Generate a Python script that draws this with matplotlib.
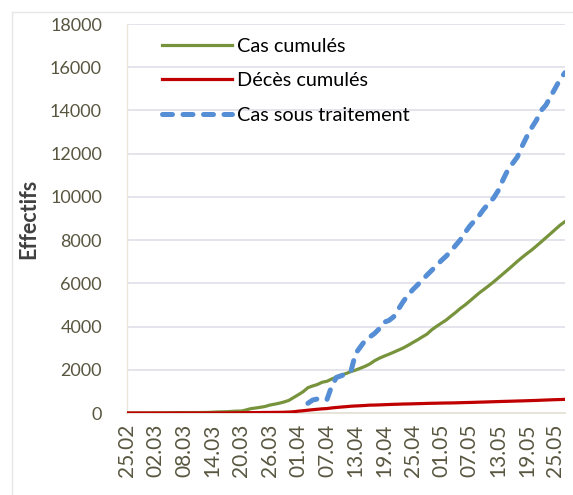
import matplotlib
matplotlib.use("Agg")
import matplotlib.pyplot as plt
import numpy as np
import datetime as dt

start = dt.date(2020, 2, 25)
n_days = 93
dates = [start + dt.timedelta(days=i) for i in range(n_days)]

cas_cumules = [1, 1, 1, 1, 1, 1, 3, 3, 5, 12, 17, 17, 19, 20, 20, 20, 24, 26, 37, 48,
               54, 60, 74, 87, 90, 139, 201, 230, 264, 302, 367, 409, 454, 511, 584, 716,
               847, 986, 1171, 1251, 1320, 1423, 1468, 1572, 1666, 1761, 1825, 1914, 1983,
               2070, 2160, 2268, 2418, 2534, 2629, 2718, 2811, 2910, 3007, 3127, 3256, 3382,
               3517, 3649, 3848, 4006, 4154, 4295, 4474, 4648, 4838, 4997, 5182, 5369, 5558,
               5723, 5891, 6067, 6253, 6442, 6629, 6821, 7019, 7201, 7377, 7542, 7728, 7918,
               8113, 8306, 8503, 8697, 8857]

deces_cumules = [0, 0, 0, 0, 0, 0, 0, 0, 0, 0, 0, 0, 0, 0, 0, 0, 1, 1, 2, 3,
                 4, 4, 6, 8, 11, 15, 17, 19, 21, 25, 26, 29, 31, 35, 44,
                 58, 86, 105, 130, 152, 173, 193, 205, 235, 256, 275, 293, 313, 326,
                 336, 348, 364, 367, 375, 384, 392, 402, 407, 415, 419, 425, 432,
                 437, 444, 450, 453, 459, 463, 465, 470, 476, 483, 488, 494, 502,
                 507, 515, 522, 529, 536, 542, 548, 555, 561, 568, 575, 582, 592,
                 600, 609, 617, 623, 630]
deces_cumules = deces_cumules[:n_days]

cas_traitement_start = 38
cas_traitement = [450, 600, 650, 620, 620, 1250, 1650, 1720, 1820, 1900, 2750, 3050,
                  3350, 3520, 3680, 3900, 4200, 4280, 4450, 4800, 5150, 5450, 5700, 5920,
                  6150, 6380, 6600, 6820, 7050, 7250, 7480, 7750, 8010, 8350, 8650, 8900,
                  9150, 9450, 9700, 9950, 10300, 10800, 11250, 11550, 11850, 12350, 12800,
                  13200, 13550, 14000, 14250, 14650, 15050, 15450, 15750]

labels = ["Cas cumulés", "Décès cumulés", "Cas sous traitement"]
y_ticks = list(range(0, 18001, 2000))

x = np.arange(n_days)
blue = np.full(n_days, np.nan)
blue[cas_traitement_start:cas_traitement_start + len(cas_traitement)] = cas_traitement

plt.rcParams['font.family'] = ['Lato', 'DejaVu Sans']

fig = plt.figure(figsize=(5.73, 4.95), dpi=100)
ax = fig.add_axes([127/573, (495-413)/495, (565-127)/573, (413-24)/495])

green_c = '#77933C'
red_c = '#C00000'
blue_c = '#558ED5'

ax.plot(x, cas_cumules[:n_days], color=green_c, lw=2.3, label=labels[0], zorder=3)
ax.plot(x, deces_cumules, color=red_c, lw=2.3, label=labels[1], zorder=4)
ax.plot(x, blue, color=blue_c, lw=3.6, label=labels[2], dashes=[2.0, 2.1],
        dash_capstyle='round', solid_capstyle='round', zorder=3)

ax.set_xlim(0, n_days - 1)
ax.set_ylim(0, 18000)
ax.set_yticks(y_ticks)
ax.set_yticklabels([str(v) for v in y_ticks])
xt = list(range(0, n_days, 6))
ax.set_xticks(xt)
ax.set_xticklabels([dates[i].strftime('%d.%m') for i in xt], rotation=90)

tick_col = '#595640'
ax.tick_params(axis='both', length=0, colors=tick_col)
ax.tick_params(axis='x', pad=8, labelsize=15)
ax.tick_params(axis='y', pad=18, labelsize=13)
ax.grid(axis='y', color='#E4E4EC', lw=1.4)
ax.set_axisbelow(True)
for s in ['top', 'right']:
    ax.spines[s].set_visible(False)
ax.spines['left'].set_color('#EAE6DA')
ax.spines['bottom'].set_color('#E6E2D6')
ax.spines['left'].set_linewidth(1.0)
ax.spines['bottom'].set_linewidth(1.3)

ax.set_ylabel('Effectifs', fontsize=15.5, fontweight='bold', color='#404040', labelpad=8)

leg = ax.legend(loc='upper left', bbox_to_anchor=(162/573, 1 - 38/495),
                bbox_transform=fig.transFigure, frameon=False, fontsize=14.3,
                handlelength=3.5, handletextpad=0.3, labelspacing=0.87,
                borderaxespad=0, borderpad=0)

# light border around chart area
fig.add_artist(plt.Line2D([12/573, 12/573], [0, 1 - 12/495], color='#E6E6E6', lw=1,
                          transform=fig.transFigure))
fig.add_artist(plt.Line2D([12/573, 1], [1 - 12/495, 1 - 12/495], color='#E6E6E6', lw=1,
                          transform=fig.transFigure))

fig.savefig('out.png', dpi=100)
